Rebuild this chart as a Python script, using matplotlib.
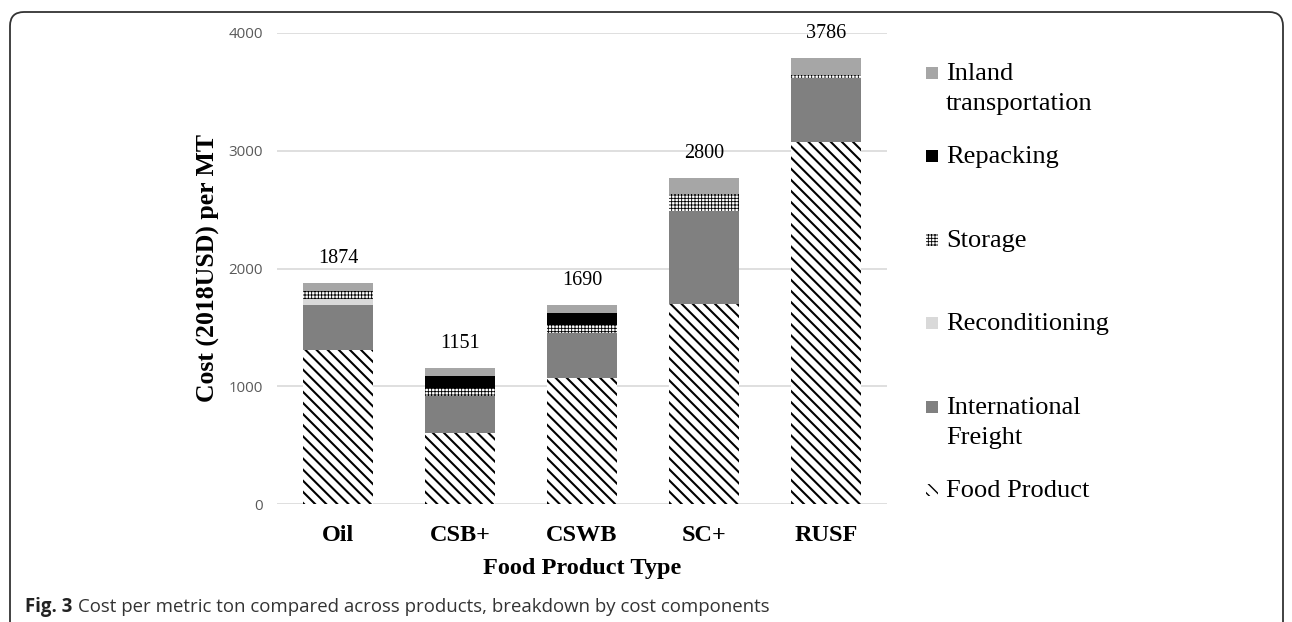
import numpy as np
import matplotlib
matplotlib.use("Agg")
import matplotlib.pyplot as plt
import matplotlib.transforms as mtransforms
from matplotlib.patches import FancyBboxPatch, Rectangle

# cost components per product (2018 USD per MT)
categories = ["Oil", "CSB+", "CSWB", "SC+", "RUSF"]
food_product = [1310, 600, 1066, 1695, 3071]
intl_freight = [380, 314, 385, 794, 545]
reconditioning = [55, 0, 0, 0, 0]
storage = [60, 68, 68, 142, 28]
repacking = [0, 101, 102, 0, 0]
inland = [69, 68, 69, 139, 142]
totals = [1874, 1151, 1690, 2800, 3786]

series_names = ["Food Product", "International\nFreight", "Reconditioning",
                "Storage", "Repacking", "Inland\ntransportation"]
series_values = [food_product, intl_freight, reconditioning,
                 storage, repacking, inland]

# (facecolor, hatch, hatch linewidth)
styles = [
    ("white", "\\\\\\", 1.5),
    ("#808080", None, 0.0),
    ("#D9D9D9", None, 0.0),
    ("white", "+++++", 0.6),
    ("black", None, 0.0),
    ("#A6A6A6", None, 0.0),
]

SERIF = ["Liberation Serif", "DejaVu Serif"]
SANS = ["Open Sans", "DejaVu Sans"]

W, H = 1292, 622
fig = plt.figure(figsize=(W / 100, H / 100), dpi=100)
ax = fig.add_axes([277 / W, 1 - 504 / H, 610 / W, 471 / H])

x = np.arange(len(categories))
bottom = np.zeros(len(categories))
for vals, (fc, hatch, hlw) in zip(series_values, styles):
    with plt.rc_context({"hatch.linewidth": hlw if hlw else 1.0}):
        bars = ax.bar(x, vals, 0.57, bottom=bottom, color=fc,
                      edgecolor="black", linewidth=0, hatch=hatch, zorder=3)
    for b in bars:
        try:
            b.set_hatch_linewidth(hlw if hlw else 1.0)
        except AttributeError:
            pass
    bottom += np.array(vals)

for xi, top, tot in zip(x, bottom, totals):
    ax.annotate(str(tot), (xi, top), xytext=(0, 11), textcoords="offset points",
                ha="center", va="bottom", fontsize=14.5, family=SERIF)

ax.set_xlim(-0.5, len(categories) - 0.5)
ax.set_ylim(0, 4000)
ax.set_yticks([0, 1000, 2000, 3000, 4000])
ax.yaxis.grid(True, color="#D9D9D9", linewidth=1.2, zorder=0)
ax.set_axisbelow(True)
for s in ax.spines.values():
    s.set_visible(False)
ax.tick_params(axis="both", length=0)
ax.tick_params(axis="y", pad=10, labelsize=10.8, labelcolor="#595959")
for lbl in ax.get_yticklabels():
    lbl.set_family(SANS)
ax.set_xticks(x)
ax.set_xticklabels(categories, fontsize=17.5, fontweight="bold", family=SERIF)
ax.tick_params(axis="x", pad=15)
ax.set_xlabel("Food Product Type", fontsize=17.5, fontweight="bold",
              family=SERIF, labelpad=9)
ax.set_ylabel("Cost (2018USD) per MT", fontsize=18.5, fontweight="bold",
              family=SERIF, labelpad=6)

# legend, drawn by hand so the rows are spaced like the original
px = mtransforms.IdentityTransform()
rows = np.linspace(73, 490, len(series_names))
for (name, (fc, hatch, hlw)), yc in zip(zip(series_names[::-1], styles[::-1]), rows):
    ypix = H - yc
    with plt.rc_context({"hatch.linewidth": min(hlw, 1.0) if hlw else 1.0}):
        r = Rectangle((926, ypix - 6), 12, 12, transform=px, facecolor=fc,
                      edgecolor="black", linewidth=0, hatch=hatch)
    fig.add_artist(r)
    for k, line in enumerate(name.split("\n")):
        fig.text(946 / W, (ypix - 7 - 30 * k) / H, line, fontsize=19,
                 family=SERIF, ha="left", va="baseline")

# outer rounded frame
frame = FancyBboxPatch((10, -40), 1273, H - 12 + 40, transform=px,
                       boxstyle="round,pad=0,rounding_size=14",
                       facecolor="none", edgecolor="#333333", linewidth=1.3)
fig.add_artist(frame)

t1 = fig.text(25 / W, 1 - 607 / H, "Fig. 3", fontsize=13.4, fontweight="bold",
              family=SANS, color="#222222", va="center")
ax.annotate("Cost per metric ton compared across products, breakdown by cost components",
            xy=(1, 0.5), xycoords=t1, xytext=(4, 0), textcoords="offset points",
            va="center", ha="left", fontsize=13.4, family=SANS, color="#333333",
            annotation_clip=False)

fig.savefig("out.png", dpi=100)
